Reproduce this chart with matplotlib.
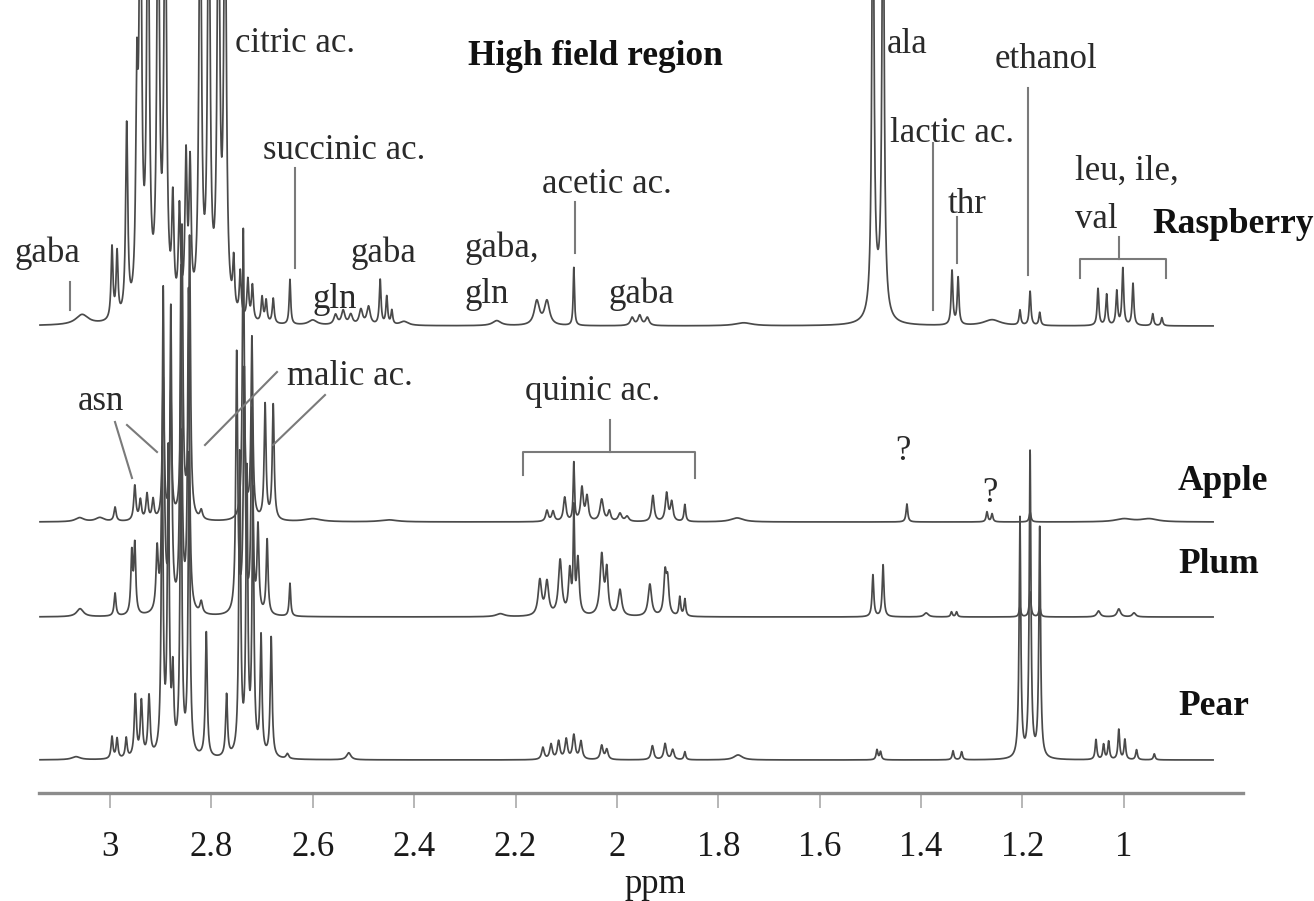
import numpy as np
import matplotlib
matplotlib.use("Agg")
import matplotlib.pyplot as plt
from matplotlib.transforms import Affine2D

# peak tables: position (ppm), height (px above baseline), half width (ppm)
rasp_ppm = [3.055, 2.996, 2.986, 2.967, 2.947, 2.940, 2.925, 2.905, 2.891, 2.876, 2.863, 2.850, 2.842,
            2.822, 2.805, 2.786, 2.773, 2.756, 2.743, 2.728, 2.719, 2.700, 2.692, 2.678, 2.645, 2.600,
            2.555, 2.540, 2.525, 2.505, 2.490, 2.467, 2.454, 2.444, 2.420, 2.237, 2.158, 2.138, 2.085,
            1.970, 1.955, 1.940, 1.750, 1.495, 1.475, 1.485, 1.339, 1.327, 1.260, 1.205, 1.185, 1.166,
            1.051, 1.034, 1.014, 1.002, 0.982, 0.943, 0.925]
rasp_height = [10, 72, 65, 190, 200, 450, 450, 450, 450, 105, 100, 150, 140,
               450, 450, 450, 450, 50, 45, 40, 35, 25, 22, 25, 45, 5,
               10, 14, 10, 15, 18, 45, 28, 14, 4, 5, 24, 24, 58,
               8, 10, 8, 3, 480, 480, 20, 54, 47, 6, 15, 34, 13,
               37, 31, 34, 57, 42, 12, 8]
rasp_width = [0.015, 0.0022, 0.0022, 0.0025, 0.0025, 0.003, 0.003, 0.003, 0.003, 0.0025, 0.0025, 0.0025, 0.0025,
              0.003, 0.003, 0.003, 0.003, 0.0022, 0.0022, 0.0022, 0.0022, 0.0022, 0.0022, 0.0022, 0.0018, 0.01,
              0.004, 0.004, 0.004, 0.004, 0.004, 0.002, 0.002, 0.002, 0.01, 0.01, 0.006, 0.006, 0.0015,
              0.004, 0.004, 0.004, 0.02, 0.0025, 0.0025, 0.012, 0.002, 0.002, 0.02, 0.002, 0.002, 0.002,
              0.002, 0.002, 0.002, 0.002, 0.002, 0.002, 0.002]

apple_ppm = [3.060, 3.020, 2.990, 2.951, 2.940, 2.927, 2.915, 2.895, 2.880, 2.858, 2.843, 2.820,
             2.737, 2.720, 2.694, 2.678, 2.600, 2.450, 2.138, 2.126, 2.103, 2.085, 2.069, 2.059,
             2.030, 2.015, 1.994, 1.980, 1.929, 1.902, 1.892, 1.866, 1.763, 1.428, 1.270, 1.260,
             1.185, 1.000, 0.950]
apple_height = [4, 4, 14, 35, 20, 26, 20, 140, 125, 290, 280, 9,
                290, 180, 115, 115, 3, 2, 11, 10, 24, 58, 33, 24,
                22, 10, 8, 5, 26, 28, 19, 17, 4, 18, 10, 8,
                10, 3, 3]
apple_width = [0.01, 0.01, 0.0025, 0.0025, 0.0025, 0.0025, 0.0025, 0.0022, 0.0022, 0.0022, 0.0022, 0.003,
               0.0022, 0.0022, 0.0022, 0.0022, 0.02, 0.02, 0.003, 0.003, 0.003, 0.0015, 0.003, 0.003,
               0.004, 0.003, 0.004, 0.004, 0.003, 0.003, 0.003, 0.002, 0.015, 0.002, 0.002, 0.002,
               0.002, 0.02, 0.02]

plum_ppm = [3.059, 2.990, 2.957, 2.951, 2.907, 2.895, 2.880, 2.860, 2.845, 2.820, 2.750, 2.735,
            2.720, 2.708, 2.690, 2.645, 2.230, 2.152, 2.138, 2.112, 2.093, 2.085, 2.077, 2.030,
            2.020, 1.994, 1.935, 1.905, 1.900, 1.876, 1.866, 1.495, 1.475, 1.390, 1.340, 1.330,
            1.205, 1.185, 1.166, 1.050, 1.010, 0.980]
plum_height = [8, 23, 60, 68, 60, 320, 300, 340, 320, 12, 260, 240,
               200, 85, 75, 33, 3, 35, 33, 55, 43, 100, 55, 60,
               43, 26, 32, 40, 33, 19, 17, 42, 52, 4, 5, 5,
               10, 25, 10, 6, 8, 4]
plum_width = [0.008, 0.0022, 0.0022, 0.0022, 0.0025, 0.0022, 0.0022, 0.0022, 0.0022, 0.003, 0.0022, 0.0022,
              0.0022, 0.0022, 0.0022, 0.0018, 0.01, 0.004, 0.004, 0.004, 0.003, 0.0015, 0.003, 0.004,
              0.003, 0.004, 0.004, 0.003, 0.003, 0.002, 0.002, 0.002, 0.002, 0.005, 0.002, 0.002,
              0.002, 0.002, 0.002, 0.004, 0.004, 0.004]

pear_ppm = [3.067, 2.996, 2.986, 2.968, 2.950, 2.938, 2.923, 2.897, 2.885, 2.876, 2.860, 2.844,
            2.810, 2.770, 2.744, 2.730, 2.718, 2.702, 2.682, 2.650, 2.529, 2.146, 2.130, 2.115,
            2.100, 2.085, 2.071, 2.030, 2.020, 1.930, 1.905, 1.890, 1.866, 1.761, 1.487, 1.480,
            1.337, 1.320, 1.205, 1.185, 1.166, 1.055, 1.040, 1.030, 1.010, 0.998, 0.975, 0.940]
pear_height = [3, 22, 20, 20, 62, 55, 60, 300, 300, 75, 320, 300,
               125, 62, 300, 280, 260, 118, 120, 5, 7, 12, 15, 18,
               20, 24, 18, 14, 10, 14, 16, 10, 8, 5, 10, 8,
               9, 8, 240, 305, 230, 20, 15, 18, 30, 20, 10, 6]
pear_width = [0.01, 0.0022, 0.0022, 0.0022, 0.0025, 0.0025, 0.0025, 0.0022, 0.0022, 0.0022, 0.0022, 0.0022,
              0.0022, 0.0022, 0.0022, 0.0022, 0.0022, 0.0022, 0.0022, 0.003, 0.005, 0.003, 0.003, 0.003,
              0.003, 0.003, 0.003, 0.003, 0.003, 0.003, 0.003, 0.003, 0.002, 0.01, 0.002, 0.002,
              0.002, 0.002, 0.002, 0.002, 0.002, 0.002, 0.002, 0.002, 0.002, 0.002, 0.002, 0.002]

fruits = ["Raspberry", "Apple", "Plum", "Pear"]
baselines = [467, 271, 176, 33]          # px above the ppm axis
ticks = [3, 2.8, 2.6, 2.4, 2.2, 2, 1.8, 1.6, 1.4, 1.2, 1]

W, H = 1314, 901
AXIS_Y = 793


def lorentz_sum(x, centres, heights, widths):
    y = np.zeros_like(x)
    for c, h, w in zip(centres, heights, widths):
        y += h * w ** 2 / ((x - c) ** 2 + w ** 2)
    return y


plt.rcParams['font.family'] = ['Liberation Serif', 'DejaVu Serif']
fig = plt.figure(figsize=(W / 100, H / 100), dpi=100)
# scan pixel coordinates, origin top-left
pix = Affine2D().scale(1, -1).translate(0, H)

ax = fig.add_axes([39 / W, (H - AXIS_Y) / H, (1243 - 39) / W, AXIS_Y / H])
ax.set_xlim(3.140, 0.765)
ax.set_ylim(0, AXIS_Y)

x = np.linspace(3.138, 0.824, 8000)
tables = [(rasp_ppm, rasp_height, rasp_width),
          (apple_ppm, apple_height, apple_width),
          (plum_ppm, plum_height, plum_width),
          (pear_ppm, pear_height, pear_width)]
for (c, h, w), base in zip(tables, baselines):
    ax.plot(x, base + lorentz_sum(x, c, h, w), color='#4a4a4a', lw=1.25)

for s in ['top', 'left', 'right']:
    ax.spines[s].set_visible(False)
ax.spines['bottom'].set_color('#8c8c8c')
ax.spines['bottom'].set_linewidth(2.4)
ax.set_yticks([])
ax.set_xticks(ticks)
ax.set_xticklabels(['%g' % t for t in ticks])
ax.tick_params(axis='x', direction='out', length=11, width=1.2, color='#aaaaaa',
               pad=16, labelsize=25, labelcolor='#1a1a1a')
ax.set_xlabel('ppm', fontsize=25, color='#1a1a1a')
ax.xaxis.set_label_coords((655 - 39) / (1243 - 39), -(868 - AXIS_Y) / AXIS_Y)

# annotations (scan pixels: x left, y baseline)
labels = [
    ("citric ac.", 235, 52), ("succinic ac.", 263, 159), ("gaba", 15, 262),
    ("gaba", 350, 262), ("gln", 313, 308), ("acetic ac.", 542, 193),
    ("gaba,", 465, 257), ("gln", 465, 303), ("gaba", 608, 303),
    ("ala", 887, 53), ("ethanol", 995, 68), ("lactic ac.", 890, 142),
    ("thr", 948, 213), ("leu, ile,", 1075, 180), ("val", 1075, 228),
    ("asn", 78, 410), ("malic ac.", 287, 385), ("quinic ac.", 525, 400),
    ("?", 895, 460), ("?", 982, 502),
]
for txt, lx, ly in labels:
    fig.text(lx, ly, txt, transform=pix, fontsize=25, color='#2a2a2a', va='baseline')

bold = [("High field region", 468, 65), ("Raspberry", 1152, 233), ("Apple", 1178, 490),
        ("Plum", 1178, 573), ("Pear", 1178, 715)]
for txt, lx, ly in bold:
    fig.text(lx, ly, txt, transform=pix, fontsize=25.5, fontweight='bold', color='#111111', va='baseline')

marks = [
    [(70, 282), (70, 310)],                       # gaba
    [(295, 168), (295, 268)],                     # succinic
    [(575, 202), (575, 253)],                     # acetic
    [(1028, 88), (1028, 275)],                    # ethanol
    [(933, 143), (933, 310)],                     # lactic
    [(957, 217), (957, 263)],                     # thr
    [(1080, 278), (1080, 259), (1166, 259), (1166, 278)],   # leu bracket
    [(1119, 237), (1119, 259)],
    [(115, 422), (132, 478)], [(127, 425), (157, 452)],     # asn
    [(277, 372), (205, 445)], [(325, 395), (273, 445)],     # malic
    [(523, 475), (523, 452), (695, 452), (695, 478)],       # quinic bracket
    [(610, 420), (610, 452)],
]
for seg in marks:
    xs, ys = zip(*seg)
    fig.add_artist(plt.Line2D(xs, ys, transform=pix, color='#7a7a7a', lw=1.5))

fig.savefig('out.png', dpi=100)
